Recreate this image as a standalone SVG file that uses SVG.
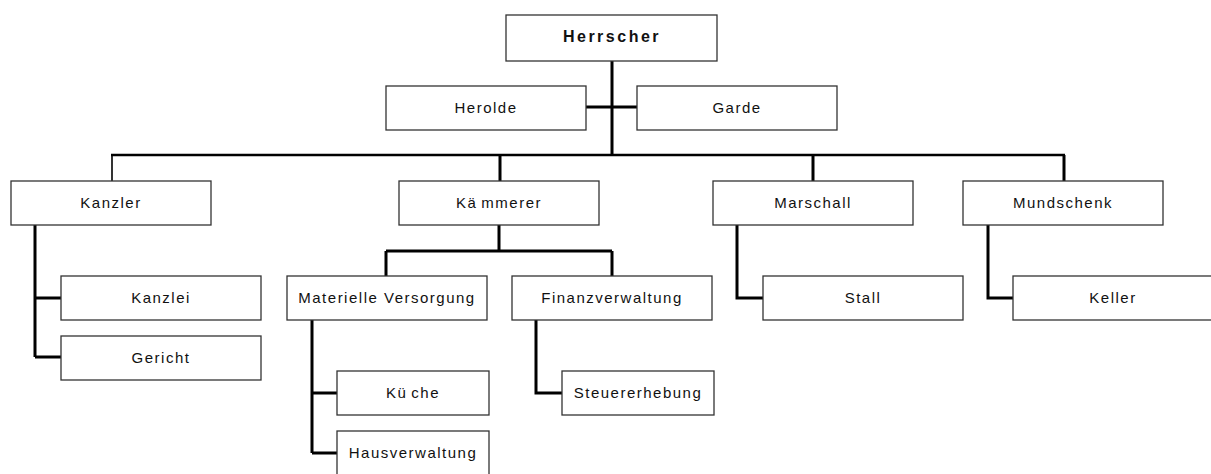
<svg xmlns="http://www.w3.org/2000/svg" width="1211" height="474" viewBox="0 0 1211 474">
<style>
.box{fill:#fff;stroke:#333;stroke-width:1.3}
.t{font-family:"Liberation Sans",Arial,sans-serif;font-size:15px;letter-spacing:1.5px;fill:#111;text-anchor:middle}
.b{font-weight:bold;font-size:16px;letter-spacing:2.5px}
.c{fill:none;stroke:#000;stroke-width:3;stroke-linecap:butt;stroke-linejoin:miter}
.thin{stroke-width:1.6}
</style>
<rect width="1211" height="474" fill="#fff"/>
<g id="connectors">
<path class="c" d="M612 61V155M586 107H637"/>
<path class="c" style="stroke-width:2.5" d="M111 155H1065"/>
<path class="c thin" d="M112 155V181"/>
<path class="c" d="M500 155V181M813 155V181M1064 155V181"/>
<path class="c" d="M35 225V357M35 298H61M35 357H61"/>
<path class="c" d="M499 225V251M386 251H612M386 251V276M612 251V276"/>
<path class="c" d="M312 320V453M312 393H337M312 453H337"/>
<path class="c" d="M536 320V393H562"/>
<path class="c" d="M737 225V298H763"/>
<path class="c" d="M988 225V298H1013"/>
</g>
<g id="herrscher"><rect class="box" x="506" y="15" width="211" height="46"/><text class="t b" x="612" y="42">Herrscher</text></g>
<g id="herolde"><rect class="box" x="386" y="86" width="200" height="44"/><text class="t" x="486" y="113">Herolde</text></g>
<g id="garde"><rect class="box" x="637" y="86" width="200" height="44"/><text class="t" x="737" y="113">Garde</text></g>
<g id="kanzler"><rect class="box" x="11" y="181" width="200" height="44"/><text class="t" x="111" y="208">Kanzler</text></g>
<g id="kaemmerer"><rect class="box" x="399" y="181" width="200" height="44"/><text class="t" x="499" y="208">Kä<tspan dx="4">mmerer</tspan></text></g>
<g id="marschall"><rect class="box" x="713" y="181" width="200" height="44"/><text class="t" x="813" y="208">Marschall</text></g>
<g id="mundschenk"><rect class="box" x="963" y="181" width="200" height="44"/><text class="t" x="1063" y="208">Mundschenk</text></g>
<g id="kanzlei"><rect class="box" x="61" y="276" width="200" height="44"/><text class="t" x="161" y="303">Kanzlei</text></g>
<g id="gericht"><rect class="box" x="61" y="336" width="200" height="44"/><text class="t" x="161" y="363">Gericht</text></g>
<g id="materielle"><rect class="box" x="287" y="276" width="200" height="44"/><text class="t" x="387" y="303">Materielle Versorgung</text></g>
<g id="finanz"><rect class="box" x="512" y="276" width="200" height="44"/><text class="t" x="612" y="303">Finanzverwaltung</text></g>
<g id="stall"><rect class="box" x="763" y="276" width="200" height="44"/><text class="t" x="863" y="303">Stall</text></g>
<g id="keller"><rect class="box" x="1013" y="276" width="200" height="44"/><text class="t" x="1113" y="303">Keller</text></g>
<g id="kueche"><rect class="box" x="337" y="371" width="152" height="44"/><text class="t" x="413" y="398">Kü<tspan dx="4">che</tspan></text></g>
<g id="steuer"><rect class="box" x="562" y="371" width="152" height="44"/><text class="t" x="638" y="398">Steuererhebung</text></g>
<g id="haus"><rect class="box" x="337" y="431" width="152" height="46"/><text class="t" x="413" y="458">Hausverwaltung</text></g>
</svg>
